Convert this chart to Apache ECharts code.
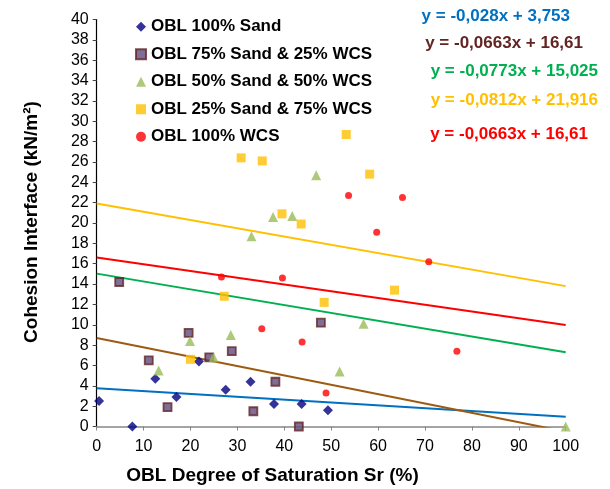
<!DOCTYPE html>
<html>
<head>
<meta charset="utf-8">
<script src="https://cdn.jsdelivr.net/npm/echarts@6/dist/echarts.min.js"></script>
<style>
html,body{margin:0;padding:0;background:#fff;}
#chart{width:610px;height:489px;}
</style>
</head>
<body>
<div id="chart"></div>
<script>
const seriesNames = ['OBL 100% Sand','OBL 75% Sand & 25% WCS','OBL 50% Sand & 50% WCS','OBL 25% Sand & 75% WCS','OBL 100% WCS'];

const sand100 = [[0.5,2.5],[7.6,0],[12.5,4.7],[17,2.9],[21.8,6.4],[27.5,3.6],[32.8,4.4],[37.8,2.2],[43.7,2.2],[49.3,1.6]];
const sand75 = [[4.8,14.2],[11.1,6.5],[15.1,1.9],[19.6,9.2],[24,6.8],[28.8,7.4],[33.4,1.5],[38.1,4.4],[43.1,0],[47.8,10.2]];
const sand50 = [[13.2,5.5],[19.9,8.4],[24.9,6.8],[28.6,9.0],[33,18.7],[37.6,20.6],[41.7,20.7],[46.8,24.7],[51.8,5.4],[56.9,10.1],[100,0]];
const sand25 = [[20,6.6],[27.2,12.8],[30.8,26.4],[35.3,26.1],[39.5,20.9],[43.6,19.9],[48.5,12.2],[53.2,28.7],[58.2,24.8],[63.5,13.4]];
const wcs100 = [[26.6,14.7],[35.2,9.6],[39.6,14.6],[43.8,8.3],[48.9,3.3],[53.7,22.7],[59.7,19.1],[65.2,22.5],[70.8,16.2],[76.8,7.4]];

const trend100Sand = [[0,3.753],[100,0.953]];
const trend75Sand = [[0,8.7],[100,-0.5]];
const trend50Sand = [[0,15.025],[100,7.295]];
const trend25Sand = [[0,21.916],[100,13.796]];
const trendWCS = [[0,16.61],[100,9.98]];

const equations = ['y = -0,028x + 3,753','y = -0,0663x + 16,61','y = -0,0773x + 15,025','y = -0,0812x + 21,916','y = -0,0663x + 16,61'];

const xTitle = 'OBL Degree of Saturation Sr (%)';
const yTitle = 'Cohesion Interface (kN/m²)';

const FONT = '"Liberation Sans", Arial, sans-serif';
const chart = echarts.init(document.getElementById('chart'), null, {renderer:'canvas'});

const eqColors = ['#0070C0','#632523','#00B050','#FFC000','#FF0000'];
const eqPos = [[570,16],[583,43],[598,71],[598,100],[588,134]];

function trendSeries(data, color){
  return {type:'line', data:data, showSymbol:false, symbol:'none', silent:true, clip:true,
    lineStyle:{color:color,width:2}, z:1, legendHoverLink:false};
}

const graphics = equations.map((t,i)=>({type:'text', x:eqPos[i][0], y:eqPos[i][1],
    style:{text:t, fill:eqColors[i], font:'bold 17px "Liberation Sans", Arial, sans-serif', textAlign:'right', textVerticalAlign:'middle'}}));
graphics.push({type:'text', x:272.5, y:476, style:{text:xTitle, fill:'#000', font:'bold 19px "Liberation Sans", Arial, sans-serif', textAlign:'center', textVerticalAlign:'middle'}});
graphics.push({type:'text', x:32, y:222, rotation:Math.PI/2, style:{text:yTitle, fill:'#000', font:'bold 19px "Liberation Sans", Arial, sans-serif', textAlign:'center', textVerticalAlign:'middle'}});

chart.setOption({
  animation:false,
  backgroundColor:'#fff',
  grid:{left:96.7, right:44.3, top:19.5, bottom:62.5, containLabel:false, outerBoundsMode:'none'},
  xAxis:{type:'value', min:0, max:100, interval:10,
    axisLine:{lineStyle:{color:'#868686', width:1.5}},
    axisTick:{show:true, inside:false, length:4, lineStyle:{color:'#868686'}},
    axisLabel:{fontFamily:FONT, fontSize:16, color:'#000', margin:12},
    splitLine:{show:false}},
  yAxis:{type:'value', min:0, max:40, interval:2,
    axisLine:{show:true, lineStyle:{color:'#000', width:1.2}},
    axisTick:{show:true, inside:false, length:4, lineStyle:{color:'#444'}},
    axisLabel:{fontFamily:FONT, fontSize:16, color:'#000', margin:8},
    splitLine:{show:false}},
  legend:{orient:'vertical', left:130, top:13, itemGap:10, itemWidth:10, itemHeight:10,
    data:seriesNames,
    textStyle:{fontFamily:FONT, fontWeight:'bold', fontSize:17, color:'#000', lineHeight:17.5}},
  graphic: graphics,
  series:[
    trendSeries(trend100Sand,'#0070C0'),
    trendSeries(trend75Sand,'#9C5A12'),
    trendSeries(trend50Sand,'#00B050'),
    trendSeries(trend25Sand,'#FFC000'),
    trendSeries(trendWCS,'#FF0000'),
    {name:seriesNames[0], type:'scatter', data:sand100, symbol:'diamond', symbolSize:10,
      itemStyle:{color:'#000080'}, z:3},
    {name:seriesNames[1], type:'scatter', data:sand75, symbol:'rect', symbolSize:8,
      itemStyle:{color:'#5F4B7E', borderColor:'#632523', borderWidth:1.8}, z:3},
    {name:seriesNames[2], type:'scatter', data:sand50, symbol:'triangle', symbolSize:10,
      itemStyle:{color:'#9BBB59'}, z:3},
    {name:seriesNames[3], type:'scatter', data:sand25, symbol:'rect', symbolSize:9,
      itemStyle:{color:'#FFC000'}, z:3},
    {name:seriesNames[4], type:'scatter', data:wcs100, symbol:'circle', symbolSize:7,
      itemStyle:{color:'#FF0000'}, z:3}
  ]
});
</script>
</body>
</html>
